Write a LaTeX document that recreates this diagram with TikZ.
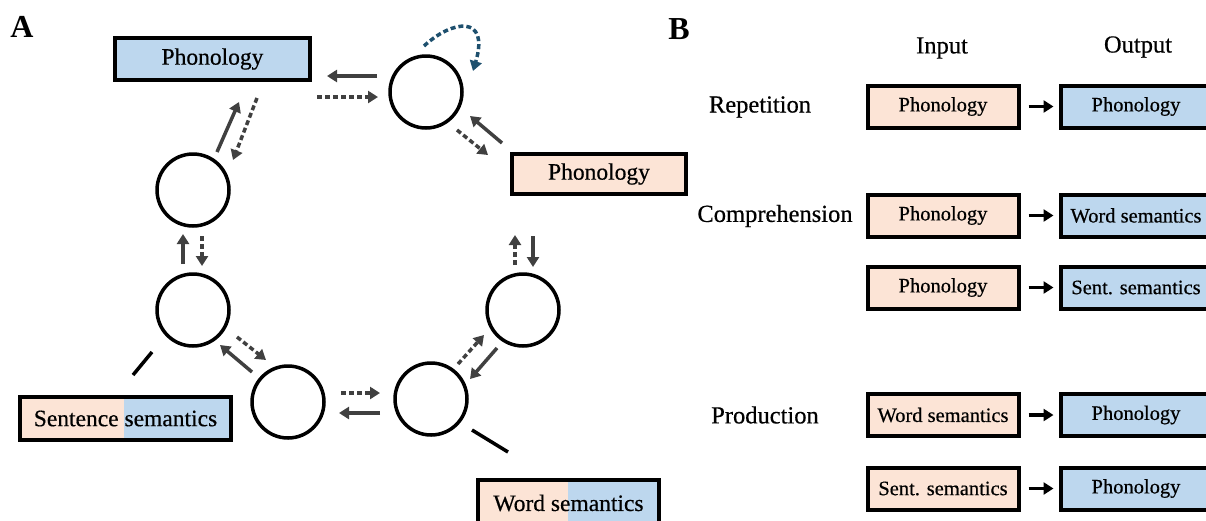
\documentclass[tikz,border=0pt]{standalone}
\usepackage{fontspec}
\setmainfont{Liberation Serif}[UprightFeatures={FakeBold=0.5}]
\usetikzlibrary{arrows.meta}
\definecolor{peach}{RGB}{252,228,214}
\definecolor{sky}{RGB}{189,215,238}
\definecolor{arrgray}{RGB}{64,64,64}
\definecolor{loopteal}{RGB}{30,80,110}
\begin{document}
\begin{tikzpicture}[x=1pt,y=-1pt,
  unit/.style={circle, draw=black, line width=3.5pt, minimum size=72pt, inner sep=0pt},
  box/.style={draw=black, line width=4pt, inner sep=0pt, font=\fontsize{20.5}{23}\selectfont},
  layer/.style={box, font=\fontsize{23.5}{26}\selectfont},
  inbox/.style={box, fill=peach, minimum width=151pt, minimum height=42pt},
  outbox/.style={box, fill=sky, minimum width=151pt, minimum height=42pt},
  tag/.style={font=\fontsize{24.5}{27}\selectfont, inner sep=0pt},
  panel/.style={font=\fontsize{32}{34}\selectfont\bfseries, inner sep=0pt},
  solidarr/.style={draw=arrgray, line width=3.5pt, -{Triangle[length=10pt,width=12pt]}},
  dotarr/.style={solidarr, dash pattern=on 5pt off 3pt},
  looparr/.style={dotarr, draw=loopteal, -{Triangle[length=10pt,width=12pt,fill=loopteal]}},
  linkline/.style={draw=black, line width=3.5pt},
  barr/.style={draw=black, line width=3.5pt, -{Triangle[length=10pt,width=12pt]}}
]
\useasboundingbox (0,0) rectangle (1206,520);
\clip (0,0) rectangle (1206,520);

% ---------- panel A ----------
\node[panel] (lblA) at (22,27) {A};

% hidden units
\node[unit] (c1) at (426,92) {};
\node[unit] (c2) at (523,310) {};
\node[unit] (c3) at (431,399) {};
\node[unit] (c4) at (288,402) {};
\node[unit] (c5) at (193,310) {};
\node[unit] (c6) at (193,190) {};

% input / output layers
\node[layer, fill=sky, minimum width=195pt, minimum height=42pt] (phonOut) at (212.5,59) {Phonology};
\node[layer, fill=peach, minimum width=174pt, minimum height=40pt] (phonIn) at (599,174) {Phonology};

% two-tone semantic layers
\fill[peach] (20,397) rectangle (124,440);
\fill[sky] (124,397) rectangle (231,440);
\node[layer, minimum width=211pt, minimum height=43pt] (sentSem) at (125.5,418.5) {Sentence semantics};
\fill[peach] (478,480) rectangle (568,526);
\fill[sky] (568,480) rectangle (659,526);
\node[layer, minimum width=181pt, minimum height=46pt] (wordSem) at (568.5,503) {Word semantics};

% connections
\draw[solidarr] (377,76) -- (327,76);
\draw[dotarr] (317,97) -- (378,97);
\draw[dotarr] (457,130) -- (488,155);
\draw[solidarr] (502,143) -- (470,116);
\draw[looparr] (424,46) .. controls (452,20) and (490,14) .. (473,71);
\draw[solidarr] (217,152) -- (239,102);
\draw[dotarr] (257,98) -- (233,160);
\draw[solidarr] (183,264) -- (183,234);
\draw[dotarr] (202,236) -- (202,266);
\draw[dotarr] (237,337) -- (266,360);
\draw[solidarr] (252,372) -- (220,345);
\draw[dotarr] (341,393) -- (380,393);
\draw[solidarr] (380,413) -- (339,413);
\draw[dotarr] (458,364) -- (484,335);
\draw[solidarr] (497,348) -- (470,379);
\draw[dotarr] (515,265) -- (515,235);
\draw[solidarr] (533,236) -- (533,267);
\draw[linkline] (152,352) -- (133,375);
\draw[linkline] (472,430) -- (508,452);

% ---------- panel B ----------
\node[panel] (lblB) at (679,29) {B};
\node[tag] (hIn) at (942,48) {Input};
\node[tag] (hOut) at (1138,47) {Output};

\node[tag] (tRep) at (760,107) {Repetition};
\node[tag] (tComp) at (775,216) {Comprehension};
\node[tag] (tProd) at (765,415) {Production};

\node[inbox] (i1) at (943,106.5) {Phonology};
\node[outbox] (o1) at (1136,106.5) {Phonology};
\node[inbox] (i2) at (943,215.5) {Phonology};
\node[outbox] (o2) at (1136,215.5) {Word semantics};
\node[inbox] (i3) at (943,287.5) {Phonology};
\node[outbox] (o3) at (1136,287.5) {Sent. semantics};
\node[inbox] (i4) at (943,415) {Word semantics};
\node[outbox] (o4) at (1136,415) {Phonology};
\node[inbox] (i5) at (943,488.5) {Sent. semantics};
\node[outbox] (o5) at (1136,488.5) {Phonology};

\foreach \k in {1,...,5}{
  \draw[barr] ([xshift=8pt]i\k.east) -- ([xshift=-5pt]o\k.west);
}
\end{tikzpicture}
\end{document}
